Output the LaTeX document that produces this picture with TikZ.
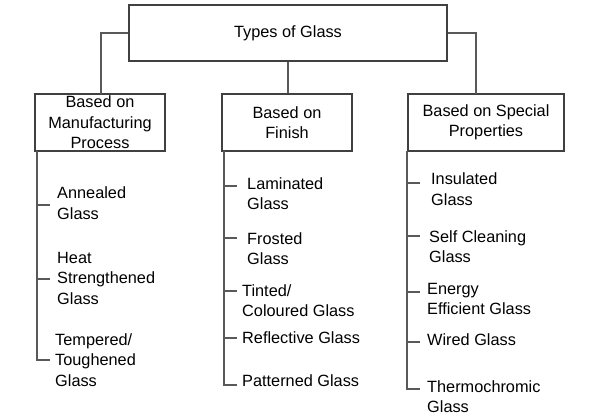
\documentclass[tikz,border=0pt]{standalone}
\usepackage{fontspec}
\setmainfont{Liberation Sans}
\begin{document}
\begin{tikzpicture}[x=1pt,y=-1pt,
  boxstyle/.style={draw=black!75,line width=1.1pt,rectangle,inner sep=0pt,align=center,
    font=\fontsize{16.3}{20.5}\selectfont},
  leafstyle/.style={inner sep=0pt,anchor=west,align=left,font=\fontsize{16.3}{20.5}\selectfont},
  linkstyle/.style={draw=black!65,line width=1.1pt}]
\useasboundingbox (0,0) rectangle (592,416);
% boxes
\node[boxstyle,minimum width=318pt,minimum height=56pt] (top) at (288,33) {Types of Glass};
\node[boxstyle,minimum width=130pt,minimum height=57pt] (lb) at (100,122.5) {Based on\\Manufacturing\\Process};
\node[boxstyle,minimum width=130pt,minimum height=57pt] (mb) at (287,122.5) {Based on\\Finish};
\node[boxstyle,minimum width=156pt,minimum height=57pt] (rb) at (486,122.5) {Based on Special\\Properties};
% junctions
\coordinate (lj) at (101,94);
\coordinate (rj) at (476,94);
\draw[linkstyle] (top.west) -| (lj);
\draw[linkstyle] (top.east) -| (rj);
\draw[linkstyle] (top.south) -- (top.south |- mb.north);
% leaves left
\node[leafstyle] (a1) at (57,203) {Annealed\\Glass};
\node[leafstyle] (a2) at (57,278) {Heat\\Strengthened\\Glass};
\node[leafstyle] (a3) at (55,360) {Tempered/\\Toughened\\Glass};
% leaves middle
\node[leafstyle] (b1) at (247,193.5) {Laminated\\Glass};
\node[leafstyle] (b2) at (247,248.5) {Frosted\\Glass};
\node[leafstyle] (b3) at (242,300.5) {Tinted/\\Coloured Glass};
\node[leafstyle] (b4) at (242,338) {Reflective Glass};
\node[leafstyle] (b5) at (242,381) {Patterned Glass};
% leaves right
\node[leafstyle] (c1) at (431,189) {Insulated\\Glass};
\node[leafstyle] (c2) at (429,246.5) {Self Cleaning\\Glass};
\node[leafstyle] (c3) at (427,299) {Energy\\Efficient Glass};
\node[leafstyle] (c4) at (427,340) {Wired Glass};
\node[leafstyle] (c5) at (427,396.5) {Thermochromic\\Glass};
% tick ends
\coordinate (ta1) at (50,205);
\coordinate (ta2) at (50,279);
\coordinate (ta3) at (50,360);
\coordinate (tb1) at (237,186);
\coordinate (tb2) at (237,238);
\coordinate (tb3) at (237,291);
\coordinate (tb4) at (237,338);
\coordinate (tb5) at (237,385);
\coordinate (tc1) at (420,183);
\coordinate (tc2) at (420,236);
\coordinate (tc3) at (420,292);
\coordinate (tc4) at (420,342);
\coordinate (tc5) at (420,389);
\coordinate (va) at (37,151);
\coordinate (vb) at (224,151);
\coordinate (vc) at (407,151);
% spines
\draw[linkstyle] (va) |- (ta3);
\draw[linkstyle] (vb) |- (tb5);
\draw[linkstyle] (vc) |- (tc5);
\foreach \t in {ta1,ta2}{\draw[linkstyle] (va |- \t) -- (\t);}
\foreach \t in {tb1,tb2,tb3,tb4}{\draw[linkstyle] (vb |- \t) -- (\t);}
\foreach \t in {tc1,tc2,tc3,tc4}{\draw[linkstyle] (vc |- \t) -- (\t);}
\end{tikzpicture}
\end{document}
